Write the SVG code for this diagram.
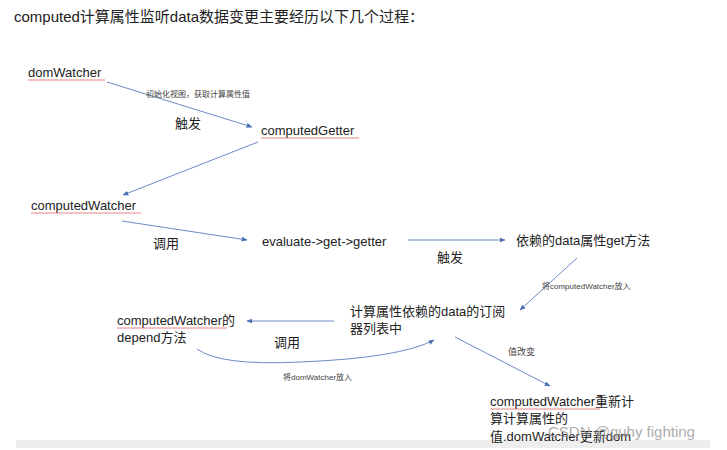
<svg xmlns="http://www.w3.org/2000/svg" width="727" height="450" viewBox="0 0 727 450">
<style>
text{font-family:"Liberation Sans","Noto Sans CJK SC",sans-serif;fill:#222}
.n{font-size:13px}
.s{font-size:8px;fill:#444}
.c{stroke:#6d8bc4;stroke-width:1;fill:none;marker-end:url(#a)}
.u{stroke:#e06666;stroke-width:0.8}
</style>
<defs><marker id="a" viewBox="0 0 10 10" refX="9" refY="5" markerWidth="6" markerHeight="6" orient="auto"><path d="M0,1 L10,5 L0,9 Z" fill="#4a6fb5"/></marker></defs>
<rect width="727" height="450" fill="#fff"/>
<rect x="16" y="440" width="694" height="8" fill="#eeeeee"/>
<text x="14" y="22" style="font-size:15px">computed计算属性监听data数据变更主要经历以下几个过程：</text>
<g id="connectors">
<path class="c" d="M107,82 L252,127"/>
<path class="c" d="M258,142 L123,195"/>
<path class="c" d="M122,221 L247,240"/>
<path class="c" d="M408,240 L505,240"/>
<path class="c" d="M577,258 L520,310"/>
<path class="c" d="M334,321 L247,321"/>
<path class="c" d="M197,349 Q220,366 300,362 Q400,358 434,340"/>
<path class="c" d="M455,337 L550,386"/>
<text class="s" x="146" y="97">初始化视图，获取计算属性值</text>
<text class="n" x="175" y="128">触发</text>
<text class="n" x="153" y="248">调用</text>
<text class="n" x="437" y="262">触发</text>
<text class="s" x="542" y="289">将computedWatcher放入</text>
<text class="n" x="274" y="347">调用</text>
<text class="s" x="283" y="380">将domWatcher放入</text>
<text class="s" x="508" y="355" style="font-size:9px">值改变</text>
</g>
<g id="domWatcher"><text class="n" x="28" y="77">domWatcher</text><line class="u" x1="28" y1="80" x2="105" y2="80"/></g>
<g id="computedGetter"><text class="n" x="261" y="135">computedGetter</text><line class="u" x1="261" y1="138" x2="359" y2="138"/></g>
<g id="computedWatcher"><text class="n" x="31" y="210">computedWatcher</text><line class="u" x1="31" y1="213" x2="141" y2="213"/></g>
<g id="evaluate"><text class="n" x="262" y="246">evaluate-&gt;get-&gt;getter</text></g>
<g id="getMethod"><text class="n" x="516" y="245">依赖的data属性get方法</text></g>
<g id="subscribers"><text class="n" x="350" y="316">计算属性依赖的data的订阅</text><text class="n" x="350" y="333">器列表中</text></g>
<g id="depend"><text class="n" x="117" y="325">computedWatcher的</text><line class="u" x1="117" y1="328" x2="227" y2="328"/><text class="n" x="117" y="342">depend方法</text></g>
<g id="recompute"><text class="n" x="490" y="406">computedWatcher重新计</text><line class="u" x1="490" y1="409" x2="600" y2="409"/><text class="n" x="490" y="423">算计算属性的</text><text class="n" x="490" y="441">值.domWatcher更新dom</text></g>
<text x="548" y="437" style="font-size:15px;fill:#999;opacity:0.8">CSDN @guhy fighting</text>
</svg>
